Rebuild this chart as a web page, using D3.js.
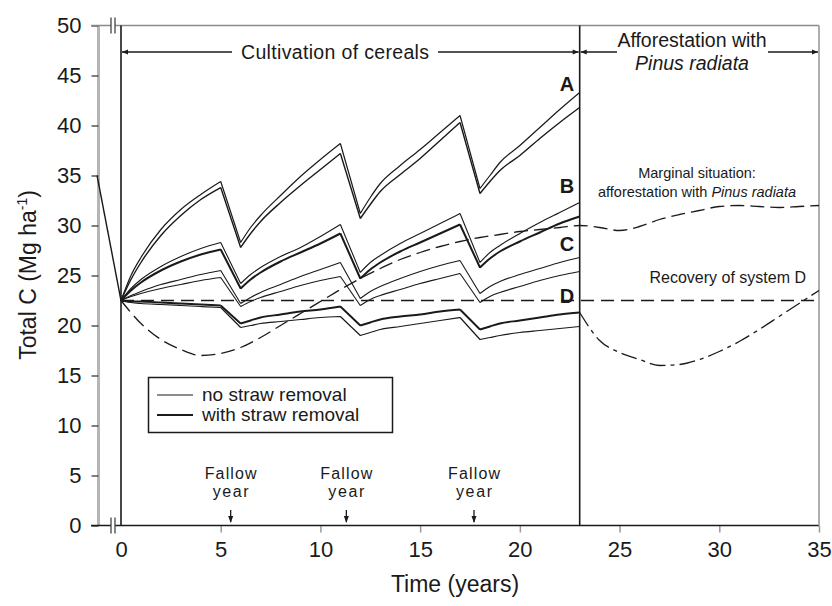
<!DOCTYPE html>
<html>
<head>
<meta charset="utf-8">
<script src="https://cdn.jsdelivr.net/npm/d3@7"></script>
<style>
  body { margin: 0; background: #fff; }
  svg { display: block; }
  text { font-family: "Liberation Sans", Arial, sans-serif; fill: #1a1a1a; }
</style>
</head>
<body>
<svg id="chart" width="832" height="606"></svg>
<script>
// ---- data ---------------------------------------------------------------
// Years of the cereal rotation (fallow in years 5-6, 11-12, 17-18)
const years = [0, 0.5, 1, 2, 3, 4, 5, 6, 6.5, 7, 8, 9, 10, 11, 12, 12.5, 13, 14, 15, 16, 17, 18, 18.5, 19, 20, 21, 22, 23];
// Years at which a curve changes direction (start/end of each fallow year)
const cornerYears = [5, 6, 11, 12, 17, 18];

// Total C (Mg/ha) for systems A-D, without and with straw removal
const aNoRemoval   = [22.5, 25.0, 26.8, 29.6, 31.6, 33.1, 34.4, 28.3, 29.8, 31.0, 33.0, 34.9, 36.6, 38.2, 31.2, 32.8, 34.2, 36.0, 37.6, 39.3, 41.0, 33.7, 35.0, 36.3, 38.0, 39.8, 41.6, 43.3];
const aWithRemoval = [22.5, 24.6, 26.3, 29.0, 31.0, 32.6, 33.8, 27.8, 29.2, 30.4, 32.3, 34.0, 35.6, 37.2, 30.7, 32.1, 33.4, 35.1, 36.7, 38.5, 40.3, 33.2, 34.4, 35.5, 37.0, 38.7, 40.3, 41.8];
const bNoRemoval   = [22.5, 23.7, 24.6, 25.9, 26.9, 27.7, 28.3, 24.2, 25.1, 25.8, 26.9, 27.8, 28.9, 30.1, 25.3, 26.3, 27.0, 28.2, 29.2, 30.2, 31.2, 26.3, 27.3, 28.0, 29.2, 30.3, 31.3, 32.3];
const bWithRemoval = [22.5, 23.5, 24.3, 25.5, 26.4, 27.1, 27.6, 23.7, 24.6, 25.3, 26.4, 27.3, 28.2, 29.2, 24.7, 25.6, 26.3, 27.4, 28.3, 29.2, 30.1, 25.8, 26.7, 27.4, 28.4, 29.3, 30.2, 30.9];
const cNoRemoval   = [22.5, 23.0, 23.4, 24.1, 24.6, 25.1, 25.5, 22.2, 22.8, 23.3, 24.1, 24.9, 25.6, 26.3, 22.7, 23.4, 23.9, 24.7, 25.4, 26.0, 26.5, 23.2, 23.9, 24.4, 25.1, 25.7, 26.3, 26.8];
const cWithRemoval = [22.5, 22.9, 23.2, 23.7, 24.1, 24.5, 24.8, 21.9, 22.4, 22.8, 23.4, 24.0, 24.5, 24.9, 22.0, 22.6, 23.0, 23.6, 24.2, 24.7, 25.2, 22.3, 22.9, 23.3, 23.9, 24.5, 25.0, 25.4];
const dNoRemoval   = [22.5, 22.4, 22.4, 22.3, 22.2, 22.1, 22.0, 20.2, 20.5, 20.8, 21.1, 21.4, 21.6, 21.9, 20.0, 20.3, 20.6, 20.9, 21.1, 21.4, 21.6, 19.6, 19.9, 20.2, 20.5, 20.8, 21.1, 21.3];
const dWithRemoval = [22.5, 22.3, 22.2, 22.1, 22.0, 21.9, 21.8, 19.8, 20.0, 20.2, 20.4, 20.6, 20.8, 20.9, 19.0, 19.3, 19.6, 19.9, 20.2, 20.5, 20.8, 18.6, 18.8, 19.0, 19.3, 19.5, 19.7, 19.9];

// Stock before conversion to cropland
const preYears  = [-1.2, 0];
const preValues = [35, 22.5];

// Initial stock of the cleared land (reference level)
const initialStock = 22.5;

// Marginal situation: afforestation with Pinus radiata from year 0
const marginalYears  = [0, 1, 2, 3, 4, 5, 6, 7, 8, 9, 10, 11, 12, 13, 14, 15, 16, 17, 18, 19, 20, 21, 22, 23, 24, 25, 26, 27, 28, 29, 30, 31, 32, 33, 34, 35];
const marginalValues = [22.5, 20.2, 18.6, 17.6, 17.0, 17.2, 17.8, 18.8, 20.0, 21.2, 22.4, 23.6, 24.7, 25.7, 26.6, 27.3, 27.9, 28.4, 28.8, 29.1, 29.4, 29.6, 29.8, 30.0, 29.8, 29.5, 29.9, 30.6, 31.1, 31.5, 31.9, 32.0, 31.9, 31.8, 31.9, 32.0];

// Recovery of system D after afforestation in year 23
const recoveryYears  = [23, 24, 25, 26, 27, 28, 29, 30, 31, 32, 33, 34, 35];
const recoveryValues = [21.3, 18.5, 17.3, 16.6, 16.0, 16.1, 16.6, 17.4, 18.4, 19.6, 20.9, 22.2, 23.5];

// Fallow years marked under the curves
const fallowYears = [5.5, 11.3, 17.7];

// System labels and the level they sit at
const systemLetters = ["A", "B", "C", "D"];
const letterLevels  = [44.2, 34.0, 28.2, 23.0];

// Axis ticks
const xTicks = [0, 5, 10, 15, 20, 25, 30, 35];
const yTicks = [0, 5, 10, 15, 20, 25, 30, 35, 40, 45, 50];

// Year at which the cropland is afforested
const afforestYear = 23;

// ---- drawing ------------------------------------------------------------
const svg = d3.select("#chart");
const ink = "#1a1a1a";

const x = d3.scaleLinear().domain([0, 35]).range([121, 819]);
const y = d3.scaleLinear().domain([0, 50]).range([525.5, 25.5]);

const axisLeftX = 98.5;
const frameLeft = 91;

// arrow markers
const defs = svg.append("defs");
defs.append("marker")
  .attr("id", "arrowHead").attr("viewBox", "0 0 10 10")
  .attr("refX", 10).attr("refY", 5)
  .attr("markerWidth", 10).attr("markerHeight", 6)
  .attr("markerUnits", "userSpaceOnUse")
  .attr("orient", "auto")
  .append("path").attr("d", "M0,1 L10,5 L0,9 Z").attr("fill", ink);

// y axis (grey)
const yAxis = d3.axisLeft(y).tickValues(yTicks).tickSize(7).tickPadding(10);
const gy = svg.append("g").attr("transform", `translate(${axisLeftX},0)`).call(yAxis);
gy.select(".domain").attr("stroke", "#b5b5b5").attr("stroke-width", 3).attr("d", `M0,${y(50)}V${y(0)}`);
gy.selectAll(".tick line").attr("stroke", "#555").attr("stroke-width", 1.5);
gy.selectAll(".tick text").attr("font-size", 22).attr("fill", "#222");

// x axis
const xAxis = d3.axisBottom(x).tickValues(xTicks).tickSize(7).tickPadding(9);
const gx = svg.append("g").attr("transform", `translate(0,${y(0)})`).call(xAxis);
gx.select(".domain").remove();
gx.selectAll(".tick line").attr("stroke", "#999").attr("stroke-width", 1.5)
  .filter(d => d === 0).remove();
gx.selectAll(".tick text").attr("font-size", 22).attr("fill", "#222");

// frame: bottom, top, right, left-of-data and afforestation boundary
svg.append("line").attr("x1", frameLeft).attr("x2", x(35)).attr("y1", y(0)).attr("y2", y(0))
  .attr("stroke", ink).attr("stroke-width", 1.6);
svg.append("line").attr("x1", frameLeft).attr("x2", x(35)).attr("y1", y(50)).attr("y2", y(50))
  .attr("stroke", "#8a8a8a").attr("stroke-width", 1.6);
svg.append("line").attr("x1", x(35)).attr("x2", x(35)).attr("y1", y(50)).attr("y2", y(0))
  .attr("stroke", "#9a9a9a").attr("stroke-width", 1.6);
svg.append("line").attr("x1", x(0)).attr("x2", x(0)).attr("y1", y(50)).attr("y2", y(0))
  .attr("stroke", ink).attr("stroke-width", 1.6);
svg.append("line").attr("x1", x(afforestYear)).attr("x2", x(afforestYear)).attr("y1", y(50)).attr("y2", y(0))
  .attr("stroke", ink).attr("stroke-width", 1.6);

// axis breaks
[y(0), y(50)].forEach(yy => {
  svg.append("rect").attr("x", 111).attr("y", yy - 2).attr("width", 4).attr("height", 4).attr("fill", "#fff");
  [111, 115].forEach(xx => svg.append("line")
    .attr("x1", xx).attr("x2", xx).attr("y1", yy - 8).attr("y2", yy + 8)
    .attr("stroke", "#444").attr("stroke-width", 1.3));
});

// reference level of the initial stock
svg.append("line")
  .attr("x1", x(0)).attr("x2", x(35)).attr("y1", y(initialStock)).attr("y2", y(initialStock))
  .attr("stroke", ink).attr("stroke-width", 1.6).attr("stroke-dasharray", "13,7");

// curve helper: smooth between corners, sharp at corners
function segmentedPath(ts, vs) {
  const pts = ts.map((t, i) => [t, vs[i]]);
  const pieces = [];
  let cur = [pts[0]];
  for (let i = 1; i < pts.length; i++) {
    cur.push(pts[i]);
    if (cornerYears.includes(pts[i][0])) { pieces.push(cur); cur = [pts[i]]; }
  }
  if (cur.length > 1) pieces.push(cur);
  const gen = d3.line().x(d => x(d[0])).y(d => y(d[1])).curve(d3.curveMonotoneX);
  return pieces.map(p => gen(p)).join("");
}

const series = [
  { values: aNoRemoval,   width: 1.2 },
  { values: aWithRemoval, width: 1.4 },
  { values: bNoRemoval,   width: 1.1 },
  { values: bWithRemoval, width: 2.0 },
  { values: cNoRemoval,   width: 1.1 },
  { values: cWithRemoval, width: 1.1 },
  { values: dNoRemoval,   width: 1.9 },
  { values: dWithRemoval, width: 1.2 }
];

svg.append("g").selectAll("path").data(series).join("path")
  .attr("d", s => segmentedPath(years, s.values))
  .attr("fill", "none").attr("stroke", ink)
  .attr("stroke-width", s => s.width).attr("stroke-linejoin", "miter");

const smooth = d3.line().x(d => x(d[0])).y(d => y(d[1])).curve(d3.curveMonotoneX);

// stock before clearing
svg.append("path")
  .attr("d", d3.line().x(d => x(d[0])).y(d => y(d[1]))(preYears.map((t, i) => [t, preValues[i]])))
  .attr("fill", "none").attr("stroke", ink).attr("stroke-width", 1.4);

// marginal situation
svg.append("path")
  .attr("d", smooth(marginalYears.map((t, i) => [t, marginalValues[i]])))
  .attr("fill", "none").attr("stroke", ink).attr("stroke-width", 1.3)
  .attr("stroke-dasharray", "14,6");

// recovery of system D
svg.append("path")
  .attr("d", smooth(recoveryYears.map((t, i) => [t, recoveryValues[i]])))
  .attr("fill", "none").attr("stroke", ink).attr("stroke-width", 1.3)
  .attr("stroke-dasharray", "16,5,4,5");

// ---- annotations ----------------------------------------------------------
// period arrows
const arrowY = 52;
function periodArrow(x0, x1, gapA, gapB) {
  svg.append("line").attr("x1", gapA).attr("x2", x0 + 1).attr("y1", arrowY).attr("y2", arrowY)
    .attr("stroke", ink).attr("stroke-width", 1.5).attr("marker-end", "url(#arrowHead)");
  svg.append("line").attr("x1", gapB).attr("x2", x1 - 1).attr("y1", arrowY).attr("y2", arrowY)
    .attr("stroke", ink).attr("stroke-width", 1.5).attr("marker-end", "url(#arrowHead)");
}
periodArrow(x(0), x(afforestYear), 232, 438);
periodArrow(x(afforestYear), x(35), 617, 768);

svg.append("text").attr("x", 335).attr("y", 59).attr("text-anchor", "middle")
  .attr("font-size", 19.5).attr("textLength", 188).text("Cultivation of cereals");
svg.append("text").attr("x", 692).attr("y", 47).attr("text-anchor", "middle")
  .attr("font-size", 19.5).text("Afforestation with");
svg.append("text").attr("x", 692).attr("y", 70).attr("text-anchor", "middle")
  .attr("font-size", 19.5).attr("font-style", "italic").text("Pinus radiata");

// system letters
svg.append("g").selectAll("text").data(systemLetters).join("text")
  .attr("x", 567).attr("y", (d, i) => y(letterLevels[i]) + 7).attr("text-anchor", "middle")
  .attr("font-size", 20).attr("font-weight", "bold").text(d => d);

// curve labels in the afforestation period
svg.append("text").attr("x", 697).attr("y", 178).attr("text-anchor", "middle")
  .attr("font-size", 14.5).text("Marginal situation:");
const m2 = svg.append("text").attr("x", 697).attr("y", 197).attr("text-anchor", "middle").attr("font-size", 14.5);
m2.append("tspan").text("afforestation with ");
m2.append("tspan").attr("font-style", "italic").text("Pinus radiata");
svg.append("text").attr("x", 806).attr("y", 283).attr("text-anchor", "end")
  .attr("font-size", 16).text("Recovery of system D");

// legend
const lg = svg.append("g");
lg.append("rect").attr("x", 148.5).attr("y", 377.5).attr("width", 244).attr("height", 55)
  .attr("fill", "#fff").attr("stroke", ink).attr("stroke-width", 1.5);
const legendItems = [["no straw removal", 1.2], ["with straw removal", 1.9]];
legendItems.forEach((d, i) => {
  const yy = 395 + i * 20;
  lg.append("line").attr("x1", 157).attr("x2", 193).attr("y1", yy).attr("y2", yy)
    .attr("stroke", ink).attr("stroke-width", d[1]);
  lg.append("text").attr("x", 202).attr("y", yy + 6).attr("font-size", 19).text(d[0]);
});

// fallow-year markers
const fg = svg.append("g");
fallowYears.forEach(t => {
  const fx = x(t);
  fg.append("text").attr("x", fx).attr("y", 479).attr("text-anchor", "middle").attr("font-size", 16)
    .attr("textLength", 52).text("Fallow");
  fg.append("text").attr("x", fx).attr("y", 497).attr("text-anchor", "middle").attr("font-size", 16)
    .attr("textLength", 36).text("year");
  fg.append("line").attr("x1", fx).attr("x2", fx).attr("y1", 510).attr("y2", 522)
    .attr("stroke", ink).attr("stroke-width", 1.3);
  fg.append("path").attr("d", `M${fx - 2.5},${516} L${fx + 2.5},${516} L${fx},${523} Z`).attr("fill", ink);
});

// axis titles
svg.append("text").attr("x", 455).attr("y", 592).attr("text-anchor", "middle")
  .attr("font-size", 23).text("Time (years)");
const yt = svg.append("text").attr("transform", "translate(36,275) rotate(-90)")
  .attr("text-anchor", "middle").attr("font-size", 23);
yt.append("tspan").text("Total C (Mg ha");
yt.append("tspan").attr("font-size", 14).attr("dy", -9).text("-1");
yt.append("tspan").attr("dy", 9).text(")");
</script>
</body>
</html>
